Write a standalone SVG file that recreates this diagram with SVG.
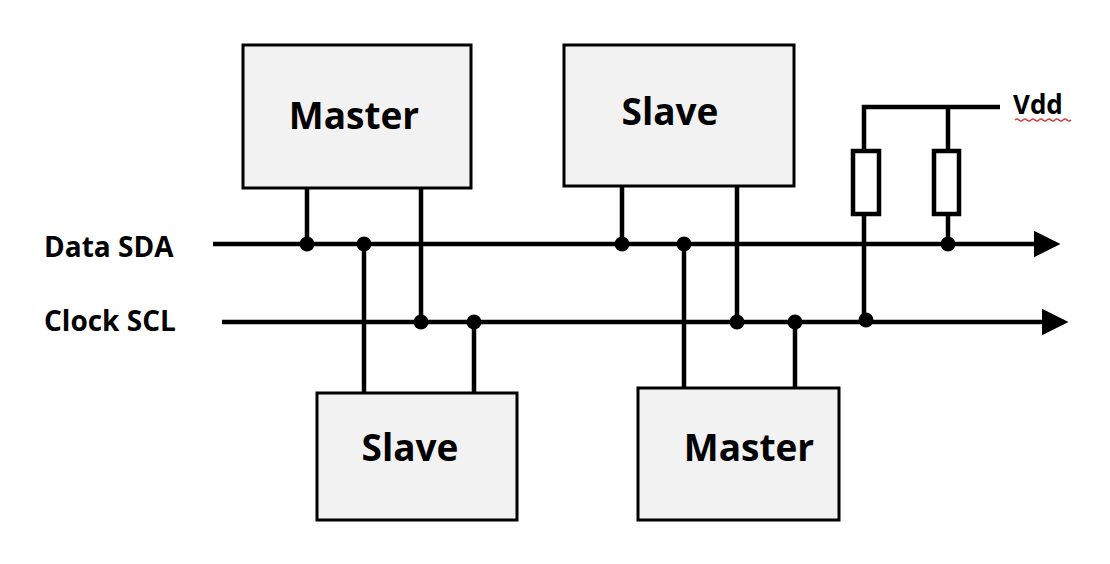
<svg xmlns="http://www.w3.org/2000/svg" width="1110" height="564" viewBox="0 0 1110 564">
<style>
.box{fill:#f2f2f2;stroke:#000;stroke-width:3}
.w{stroke:#000;stroke-width:4.5;fill:none}
.res{fill:#fff;stroke:#000;stroke-width:4.5}
.t{font-family:"Open Sans","Liberation Sans",sans-serif;font-weight:bold;fill:#000}
.bl{font-size:37px}
.sl{font-size:28px}
</style>
<defs>
<marker id="ah" markerWidth="6" markerHeight="6" refX="5" refY="3" orient="auto" markerUnits="strokeWidth"><path d="M0,0 L6,3 L0,6 z" fill="#000"/></marker>
</defs>
<rect width="1110" height="564" fill="#fff"/>
<g id="master1"><rect class="box" x="243" y="45" width="228" height="143"/><text class="t bl" x="354" y="129" text-anchor="middle">Master</text></g>
<g id="slave1"><rect class="box" x="564" y="45" width="230" height="141"/><text class="t bl" x="670" y="125" text-anchor="middle">Slave</text></g>
<g id="slave2"><rect class="box" x="317" y="393" width="200" height="127"/><text class="t bl" x="410" y="461" text-anchor="middle">Slave</text></g>
<g id="master2"><rect class="box" x="638" y="388" width="201" height="132"/><text class="t bl" x="749" y="461" text-anchor="middle">Master</text></g>
<g id="labels">
<text class="t sl" x="44" y="257">Data SDA</text>
<text class="t sl" x="44" y="331">Clock SCL</text>
<text class="t" font-size="26" x="1013" y="114">Vdd</text>
<path d="M1015,120 q2,-2 4,0 t4,0 t4,0 t4,0 t4,0 t4,0 t4,0 t4,0 t4,0 t4,0 t4,0 t4,0 t4,0 t4,0" stroke="#d04040" stroke-width="1.5" fill="none"/>
</g>
<g id="connectors">
<line class="w" x1="213" y1="244" x2="1056" y2="244" marker-end="url(#ah)"/>
<line class="w" x1="222" y1="322" x2="1064" y2="322" marker-end="url(#ah)"/>
<path class="w" d="M307,188V244 M421,188V322 M622,186V244 M737,186V322 M364,244V393 M474,322V393 M684,244V388 M795,322V388 M864,322V107H1000 M948,244V107"/>
<rect class="res" x="853" y="151" width="26" height="63"/>
<rect class="res" x="934" y="151" width="25" height="63"/>
<g fill="#000">
<circle cx="307" cy="244" r="7.5"/><circle cx="364" cy="244" r="7.5"/><circle cx="622" cy="244" r="7.5"/><circle cx="684" cy="244" r="7.5"/><circle cx="948" cy="244" r="7.5"/>
<circle cx="421" cy="322" r="7.5"/><circle cx="474" cy="322" r="7.5"/><circle cx="737" cy="322" r="7.5"/><circle cx="795" cy="322" r="7.5"/><circle cx="866" cy="320" r="7.5"/>
</g>
</g>
</svg>
